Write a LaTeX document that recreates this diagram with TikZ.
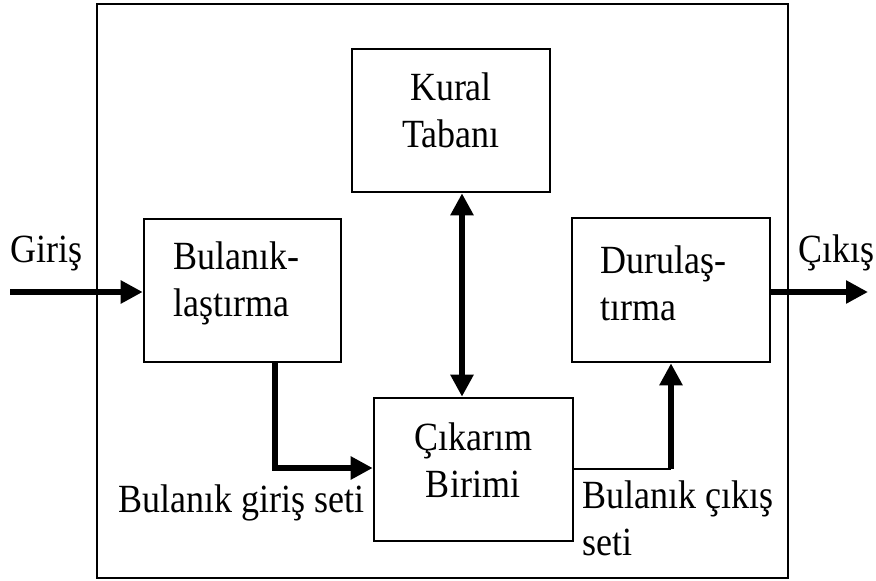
\documentclass[tikz,border=0pt]{standalone}
\usepackage{fontspec}
\setmainfont{Liberation Serif}[FakeStretch=0.9]
\usetikzlibrary{arrows.meta}
\begin{document}
\begin{tikzpicture}[x=1pt,y=-1pt,
  box/.style={draw, line width=2.6pt, inner sep=0pt},
  txt/.style={inner sep=0pt, font=\fontsize{40}{47}\selectfont},
  arr/.style={line width=5.5pt, -{Triangle[length=22pt,width=22pt]}},
  darr/.style={line width=5.5pt, {Triangle[length=22pt,width=22pt]}-{Triangle[length=22pt,width=22pt]}},
  thinline/.style={line width=2.6pt}]
\useasboundingbox (0,0) rectangle (876,581);
\fill[white] (0,0) rectangle (876,581);
% outer frame
\node[box, minimum width=691pt, minimum height=574pt] (frame) at (442.5,291) {};
% blocks
\node[box, minimum width=198pt, minimum height=143pt] (kural) at (451,120.5) {};
\node[box, minimum width=197pt, minimum height=143pt] (bul) at (242.5,290.5) {};
\node[box, minimum width=198pt, minimum height=144pt] (dur) at (671,290) {};
\node[box, minimum width=199pt, minimum height=143pt] (cik) at (473.5,469.5) {};
% block texts
\node[txt, align=center] (kuralt) at (451,110) {Kural\\Tabanı};
\node[txt, align=left, anchor=west] (bult) at (173,283) {Bulanık-\\laştırma};
\node[txt, align=left, anchor=west] (durt) at (600,283) {Durulaş-\\tırma};
\node[txt, align=center] (cikt) at (473,460) {Çıkarım\\Birimi};
% labels
\node[txt, anchor=base west] (giris) at (10,262) {Giriş};
\node[txt, anchor=base west] (cikis) at (798,262) {Çıkış};
\node[txt, anchor=base west] (bgs) at (118,512) {Bulanık giriş seti};
\node[txt, align=left, anchor=west] (bcs) at (582,518) {Bulanık çıkış\\seti};
% connectors
\coordinate (gin) at (10,292);
\coordinate (cout) at (868,292);
\coordinate (dx) at (462,0);
\coordinate (b1) at (275,468);
\coordinate (c1) at (671,469);
\draw[arr] (gin) -- (gin -| bul.west);
\draw[arr] (dur.east |- cout) -- (cout);
\draw[darr] (dx |- kural.south) -- (dx |- cik.north);
\draw[arr] (bul.south -| b1) -- (b1) -- (b1 -| cik.west);
\draw[thinline] (cik.east |- c1) -- (c1);
\draw[arr] (c1) -- (c1 |- dur.south);
\end{tikzpicture}
\end{document}
